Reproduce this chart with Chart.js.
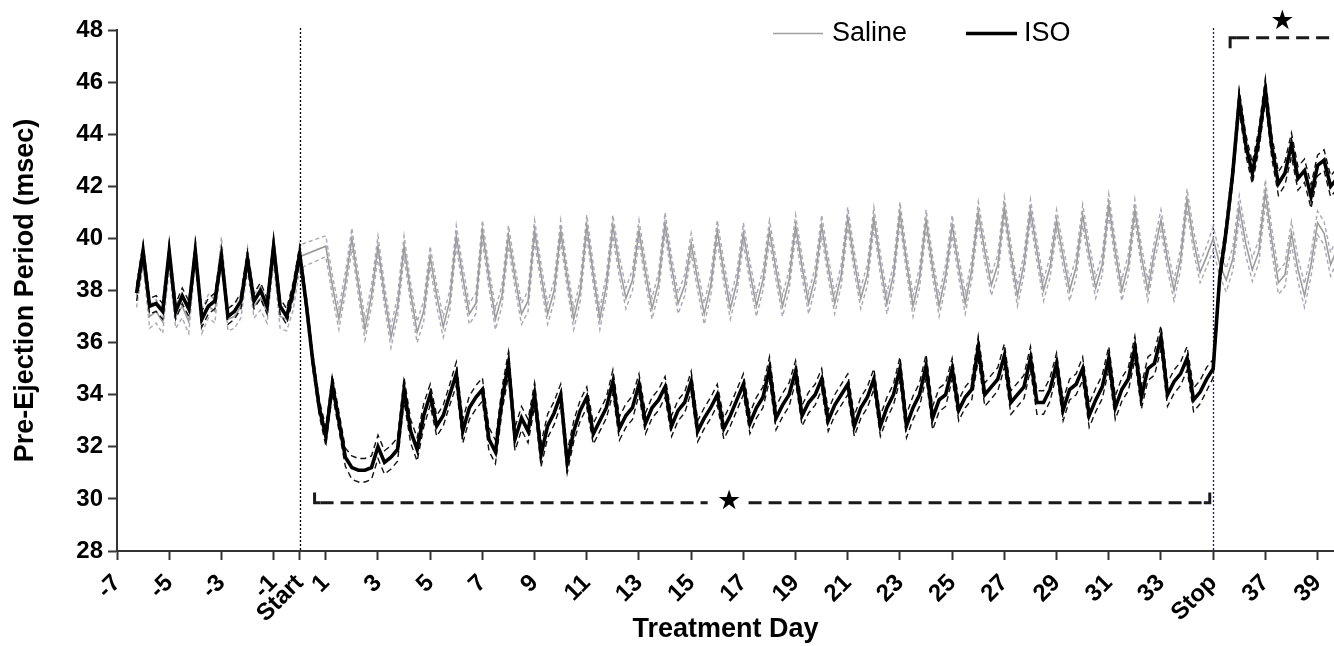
<!DOCTYPE html>
<html><head><meta charset="utf-8">
<script src="https://cdn.jsdelivr.net/npm/chart.js@4"></script>
<style>html,body{margin:0;padding:0;background:#fff}#wrap{width:1334px;height:646px}</style>
</head><body><div id="wrap"><canvas id="c" width="1334" height="646"></canvas></div>
<script>
// ---- sampling grid (6-hour bins) ----
const FIRST_TIME = -6.25;
const TIME_STEP = 0.25;

// ---- ISO mean PEP (msec), one value per 6-h bin from day -6.25 ----
const ISO_MEAN = [
  37.9,
  39.5, 37.4, 37.5, 37.2,   39.5, 37.2, 37.8, 37.3,   39.5, 36.9, 37.4, 37.6,
  39.3, 37.0, 37.2, 37.6,   39.2, 37.6, 38.0, 37.4,   39.7, 37.4, 37.0, 38.0,
  39.4, 37.5, 35.3, 33.5,   32.4, 34.4, 33.0, 31.6,   31.2, 31.1, 31.1, 31.2,
  32.0, 31.4, 31.6, 31.9,   34.2, 32.6, 31.9, 33.2,   34.0, 32.8, 33.2, 34.0,
  34.8, 32.6, 33.5, 33.9,   34.2, 32.3, 31.8, 33.8,   35.2, 32.3, 33.1, 32.6,
  34.0, 31.7, 32.8, 33.3,   34.0, 31.4, 32.6, 33.4,   33.9, 32.5, 33.0, 33.5,
  34.5, 32.7, 33.2, 33.5,   34.4, 32.9, 33.5, 33.8,   34.3, 32.8, 33.4, 33.7,
  34.5, 32.6, 33.1, 33.5,   34.0, 32.7, 33.2, 33.8,   34.4, 32.9, 33.5, 33.9,
  35.0, 33.1, 33.6, 34.0,   34.9, 33.2, 33.7, 34.0,   34.6, 33.0, 33.6, 34.0,
  34.4, 32.8, 33.5, 33.9,   34.6, 32.8, 33.5, 34.0,   35.0, 32.8, 33.5, 34.0,
  35.1, 33.1, 33.8, 34.0,   35.0, 33.4, 33.9, 34.2,   35.8, 34.0, 34.3, 34.6,
  35.5, 33.7, 34.0, 34.3,   35.4, 33.7, 33.7, 34.2,   35.2, 33.4, 34.2, 34.4,
  35.0, 33.2, 33.8, 34.3,   35.4, 33.5, 34.2, 34.6,   35.8, 33.9, 35.0, 35.2,
  36.2, 34.0, 34.5, 34.8,   35.4, 33.8, 34.1, 34.6,   35.0, 38.5, 40.3, 42.5,
  45.3, 43.6, 42.5, 43.8,   45.7, 43.5, 42.1, 42.5,   43.6, 42.3, 42.6, 41.6,
  42.8, 43.0, 42.0, 42.3
];

// ---- Saline mean PEP (msec) ----
const SALINE_MEAN = [
  37.8,
  39.4, 37.0, 37.2, 36.8,   39.3, 37.0, 37.4, 36.8,   39.6, 36.8, 37.4, 37.2,
  39.6, 36.9, 37.0, 37.4,   39.2, 37.4, 37.7, 37.2,   39.5, 37.0, 36.9, 37.7,
  39.3, null, null, null,   39.7, 38.2, 36.9, 38.3,   40.0, 38.2, 36.5, 37.8,
  39.7, 37.8, 36.2, 37.4,   39.7, 37.9, 36.4, 37.2,   39.3, 37.8, 36.6, 37.6,
  40.1, 38.5, 37.1, 37.5,   40.3, 38.5, 36.9, 37.8,   40.1, 38.5, 37.1, 37.6,
  40.3, 38.6, 37.1, 38.0,   40.3, 38.5, 36.9, 38.0,   40.5, 38.6, 36.9, 38.2,
  40.5, 38.9, 37.7, 38.4,   40.3, 38.7, 37.3, 38.3,   40.6, 38.9, 37.5, 38.2,
  39.8, 38.4, 37.1, 38.2,   40.3, 38.7, 37.3, 38.3,   40.2, 38.7, 37.4, 38.4,
  40.3, 38.8, 37.4, 38.4,   40.5, 38.9, 37.5, 38.5,   40.5, 38.9, 37.5, 38.6,
  40.8, 39.1, 37.7, 38.6,   40.8, 39.0, 37.5, 38.6,   41.0, 39.1, 37.4, 38.5,
  40.7, 38.9, 37.4, 38.6,   40.5, 38.9, 37.5, 38.8,   41.0, 39.5, 38.2, 39.0,
  41.2, 39.4, 37.8, 39.0,   41.1, 39.5, 38.0, 38.9,   40.7, 39.3, 38.0, 38.9,
  40.9, 39.4, 38.1, 39.0,   41.3, 39.5, 38.0, 39.0,   41.1, 39.3, 38.0, 39.5,
  40.7, 39.2, 38.0, 39.2,   41.5, 39.9, 38.7, 39.3,   40.0, 39.0, 38.4, 39.2,
  41.2, 39.8, 38.8, 39.5,   41.8, 39.9, 38.3, 38.6,   40.2, 38.8, 37.8, 39.0,
  40.6, 40.2, 39.0, 39.6
];

// ---- SEM per day, days -7 .. 39 ----
const ISO_SEM = [
  0.3, 0.3, 0.3, 0.3, 0.3, 0.3, 0.3,
  0.3, 0.35, 0.45, 0.45, 0.45, 0.4, 0.45, 0.45, 0.45, 0.45,
  0.4, 0.4, 0.45, 0.4, 0.4, 0.4, 0.4, 0.4, 0.45, 0.4,
  0.4, 0.4, 0.4, 0.45, 0.45, 0.4, 0.45, 0.45, 0.45, 0.4,
  0.45, 0.45, 0.45, 0.45, 0.45, 0.35, 0.4, 0.45, 0.45, 0.4
];
const SALINE_SEM = [
  0.45, 0.45, 0.45, 0.45, 0.45, 0.45, 0.45,
  0.45, 0.4, 0.4, 0.4, 0.4, 0.4, 0.4, 0.4, 0.4, 0.4,
  0.4, 0.4, 0.4, 0.4, 0.4, 0.4, 0.4, 0.4, 0.4, 0.4,
  0.4, 0.4, 0.4, 0.4, 0.4, 0.4, 0.4, 0.4, 0.4, 0.4,
  0.4, 0.4, 0.4, 0.4, 0.4, 0.45, 0.45, 0.45, 0.45, 0.45
];
const SEM_FIRST_DAY = -7;

// ---- axes ----
const X_TICKS = [-7, -5, -3, -1, 0, 1, 3, 5, 7, 9, 11, 13, 15, 17, 19, 21, 23, 25, 27, 29, 31, 33, 35, 37, 39];
const TICK_NAMES = {0: 'Start', 35: 'Stop'};
const X_MIN = -7, X_MAX = 39.63;
const Y_MIN = 28, Y_MAX = 48, Y_STEP = 2;
const EVENT_DAYS = [0, 35];

// ---- significance brackets (data units) ----
const BRACKET_LOW = {from: 0.57, to: 34.87, level: 29.85, tip: 30.25, star: [16.45, 29.87], gap: [15.63, 17.2]};
const BRACKET_HIGH = {from: 35.65, to: 41, level: 47.7, tip: 47.3, star: [37.65, 48.3], gap: null};

// ---- build datasets ----
function semFor(arr, t) { return arr[Math.floor(t + 1e-9) - SEM_FIRST_DAY]; }
function pts(mean, sem, sign) {
  return mean.map((v, i) => {
    const t = FIRST_TIME + i * TIME_STEP;
    return {x: t, y: v == null ? null : +(v + sign * semFor(sem, t)).toFixed(3)};
  });
}

const FONT = '"Liberation Sans", Arial, Helvetica, sans-serif';

const overlay = {
  id: 'overlay',
  beforeDatasetsDraw(chart) {
    const {ctx, scales: {x}, chartArea: a} = chart;
    ctx.save();
    ctx.lineWidth = 1.3;
    ctx.setLineDash([2, 2]);
    EVENT_DAYS.forEach((d, i) => {
      const px = Math.round(x.getPixelForValue(d)) + 0.5;
      ctx.strokeStyle = i ? '#1c1c5a' : '#000';
      ctx.beginPath(); ctx.moveTo(px, a.top - 2); ctx.lineTo(px, a.bottom); ctx.stroke();
    });
    ctx.restore();
  },
  afterDraw(chart) {
    const {ctx, scales: {x, y}} = chart;
    ctx.save();
    [BRACKET_LOW, BRACKET_HIGH].forEach(b => {
      const x0 = x.getPixelForValue(b.from), x1 = x.getPixelForValue(b.to);
      const yl = y.getPixelForValue(b.level), yt = y.getPixelForValue(b.tip);
      ctx.strokeStyle = '#1a1a1a'; ctx.lineWidth = 3; ctx.lineCap = 'butt';
      ctx.setLineDash([]);
      ctx.beginPath();
      ctx.moveTo(x0, yt); ctx.lineTo(x0, yl); ctx.lineTo(x0 + 6, yl);
      ctx.moveTo(x1, yt); ctx.lineTo(x1, yl); ctx.lineTo(x1 - 6, yl);
      ctx.stroke();
      ctx.setLineDash([13, 7]);
      const segs = b.gap ? [[x0 + 6, x.getPixelForValue(b.gap[0])], [x.getPixelForValue(b.gap[1]), x1 - 6]] : [[x0 + 6, x1]];
      segs.forEach(s => { ctx.beginPath(); ctx.moveTo(s[0], yl); ctx.lineTo(s[1], yl); ctx.stroke(); });
      ctx.fillStyle = '#000';
      ctx.font = '27px "DejaVu Sans"';
      ctx.textAlign = 'center'; ctx.textBaseline = 'middle';
      ctx.fillText('\u2605', x.getPixelForValue(b.star[0]), y.getPixelForValue(b.star[1]));
    });
    // legend
    ctx.setLineDash([]);
    ctx.font = '27px ' + FONT;
    ctx.textAlign = 'left'; ctx.textBaseline = 'middle';
    ctx.strokeStyle = '#a0a0a0'; ctx.lineWidth = 1.5;
    ctx.beginPath(); ctx.moveTo(773, 33.5); ctx.lineTo(823, 33.5); ctx.stroke();
    ctx.fillStyle = '#000';
    ctx.fillText('Saline', 832, 34);
    ctx.strokeStyle = '#000'; ctx.lineWidth = 3.5;
    ctx.beginPath(); ctx.moveTo(966, 33.5); ctx.lineTo(1017, 33.5); ctx.stroke();
    ctx.fillText('ISO', 1024, 34);
    ctx.restore();
  }
};

const tickFont = {family: FONT, size: 24, weight: 'bold'};
const titleFont = {family: FONT, size: 27, weight: 'bold'};

new Chart(document.getElementById('c'), {
  type: 'line',
  data: {
    datasets: [
      {label: 'ISO', data: pts(ISO_MEAN, ISO_SEM, 0), borderColor: '#000', borderWidth: 3.6, order: 0},
      {label: 'ISO +SEM', data: pts(ISO_MEAN, ISO_SEM, 1), borderColor: '#111', borderWidth: 1.4, borderDash: [6, 4], order: 1},
      {label: 'ISO -SEM', data: pts(ISO_MEAN, ISO_SEM, -1), borderColor: '#111', borderWidth: 1.4, borderDash: [6, 4], order: 1},
      {label: 'Saline', data: pts(SALINE_MEAN, SALINE_SEM, 0), borderColor: '#9c9c9c', borderWidth: 1.6, order: 2},
      {label: 'Saline +SEM', data: pts(SALINE_MEAN, SALINE_SEM, 1), borderColor: '#a8a8b6', borderWidth: 1.4, borderDash: [4, 3], order: 3},
      {label: 'Saline -SEM', data: pts(SALINE_MEAN, SALINE_SEM, -1), borderColor: '#a8a8b6', borderWidth: 1.4, borderDash: [4, 3], order: 3}
    ]
  },
  options: {
    responsive: false,
    animation: false,
    spanGaps: true,
    elements: {point: {radius: 0}, line: {tension: 0, fill: false}},
    layout: {padding: {top: 30, left: 0, right: 0, bottom: 0}},
    plugins: {legend: {display: false}, tooltip: {enabled: false}},
    scales: {
      x: {
        type: 'linear', min: X_MIN, max: X_MAX,
        afterBuildTicks: s => { s.ticks = X_TICKS.map(v => ({value: v})); },
        afterFit: s => { s.height = 95; s.paddingLeft = 0; s.paddingRight = 0; },
        ticks: {
          autoSkip: false, minRotation: 45, maxRotation: 45, padding: 9, color: '#000', font: tickFont,
          callback: v => (TICK_NAMES[v] !== undefined ? TICK_NAMES[v] : String(v))
        },
        grid: {drawOnChartArea: false, drawTicks: true, tickLength: 9, tickWidth: 2, tickColor: '#333'},
        border: {display: true, color: '#333', width: 2},
        title: {display: true, text: 'Treatment Day', color: '#000', font: titleFont, padding: {top: 0, bottom: 0}}
      },
      y: {
        min: Y_MIN, max: Y_MAX,
        afterFit: s => { s.width = 117; s.paddingTop = 0; s.paddingBottom = 0; },
        ticks: {stepSize: Y_STEP, padding: 5, color: '#000', font: tickFont},
        grid: {drawOnChartArea: false, drawTicks: true, tickLength: 9, tickWidth: 2, tickColor: '#333'},
        border: {display: true, color: '#333', width: 2},
        title: {display: true, text: 'Pre-Ejection Period (msec)', color: '#000', font: titleFont, padding: {top: 9, bottom: 0}}
      }
    }
  },
  plugins: [overlay]
});
</script>
</body></html>
